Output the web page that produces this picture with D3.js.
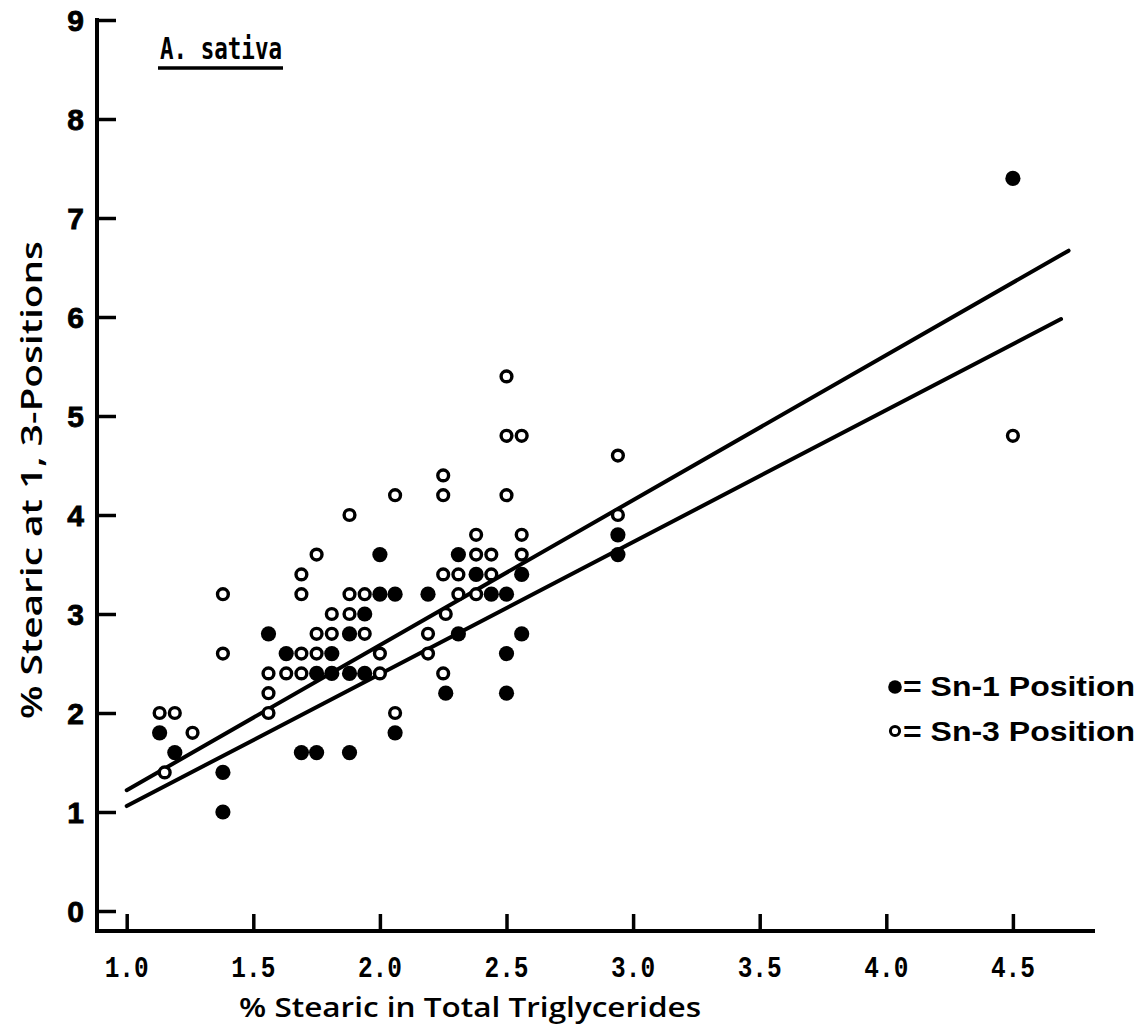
<!DOCTYPE html>
<html>
<head>
<meta charset="utf-8">
<script src="https://cdn.jsdelivr.net/npm/d3@7"></script>
<style>
  html, body { margin: 0; padding: 0; background: #fff; }
  svg { display: block; }
</style>
</head>
<body>
<svg id="chart" width="1141" height="1031"></svg>
<script>
// ---- data ----
const xTickValues = [1.0, 1.5, 2.0, 2.5, 3.0, 3.5, 4.0, 4.5];
const yTickValues = [0, 1, 2, 3, 4, 5, 6, 7, 8, 9];

// Sn-1 position (filled circles): [ % stearic in total TG, % stearic at sn-1 ]
const sn1Points = [
  [1.13,1.8],[1.19,1.6],[1.38,1.4],[1.38,1.0],[1.56,2.8],[1.63,2.6],[1.69,1.6],
  [1.75,2.4],[1.75,1.6],[1.81,2.6],[1.81,2.4],[1.88,2.8],[1.88,2.4],[1.88,1.6],
  [1.94,3.0],[1.94,2.4],[2.0,3.6],[2.0,3.2],[2.06,3.2],[2.06,1.8],[2.19,3.2],
  [2.26,2.2],[2.31,3.6],[2.31,2.8],[2.38,3.4],[2.44,3.2],[2.5,3.2],[2.5,2.6],
  [2.5,2.2],[2.56,3.4],[2.56,2.8],[2.94,3.8],[2.94,3.6],[4.5,7.4]
];
// Sn-3 position (open circles)
const sn3Points = [
  [1.13,2.0],[1.19,2.0],[1.15,1.4],[1.26,1.8],[1.38,3.2],[1.38,2.6],[1.56,2.4],
  [1.56,2.2],[1.56,2.0],[1.63,2.4],[1.69,3.4],[1.69,3.2],[1.69,2.6],[1.69,2.4],
  [1.75,3.6],[1.75,2.8],[1.75,2.6],[1.81,3.0],[1.81,2.8],[1.88,4.0],[1.88,3.2],
  [1.88,3.0],[1.94,3.2],[1.94,2.8],[2.0,2.6],[2.0,2.4],[2.06,4.2],[2.06,2.0],
  [2.19,2.8],[2.19,2.6],[2.25,4.4],[2.25,4.2],[2.25,3.4],[2.26,3.0],[2.25,2.4],
  [2.31,3.4],[2.31,3.2],[2.38,3.8],[2.38,3.6],[2.38,3.2],[2.44,3.6],[2.44,3.4],
  [2.5,5.4],[2.5,4.8],[2.5,4.2],[2.56,4.8],[2.56,3.8],[2.56,3.6],[2.94,4.6],
  [2.94,4.0],[4.5,4.8]
];
// regression lines (endpoints)
const upperLine = [[1.0,1.22],[4.72,6.67]];
const lowerLine = [[1.0,1.06],[4.69,5.98]];

const titleText = "A. sativa";
const xAxisTitle = "% Stearic in Total Triglycerides";
const yAxisTitle = "% Stearic at 1, 3-Positions";
const legendLabels = ["= Sn-1 Position", "= Sn-3 Position"];

// ---- layout ----
const svg = d3.select("#chart");
const x = d3.scaleLinear().domain([1, 4.5]).range([126.7, 1012.9]);
const y = d3.scaleLinear().domain([0, 9]).range([911, 20]);
const axisX0 = 97, axisX1 = 1095, axisY = 931, axisTop = 18;
const ink = "#000";

// axes lines
svg.append("line").attr("x1", axisX0).attr("x2", axisX0).attr("y1", axisTop).attr("y2", axisY + 2)
  .attr("stroke", ink).attr("stroke-width", 4);
svg.append("line").attr("x1", axisX0 - 2).attr("x2", axisX1).attr("y1", axisY).attr("y2", axisY)
  .attr("stroke", ink).attr("stroke-width", 4);

// y axis (ticks pointing inward)
const yAxis = d3.axisRight(y).tickValues(yTickValues).tickSize(19).tickFormat("");
const gy = svg.append("g").attr("transform", `translate(${axisX0},0)`).call(yAxis);
gy.select(".domain").remove();
gy.selectAll(".tick line").attr("stroke", ink).attr("stroke-width", 3.5);
svg.append("g").selectAll("text").data(yTickValues).join("text")
  .attr("x", 84).attr("y", d => y(d)).attr("dy", "0.36em")
  .attr("text-anchor", "end")
  .attr("font-family", "'Liberation Sans', Arial, sans-serif")
  .attr("font-weight", "bold").attr("font-size", 30)
  .attr("stroke", ink).attr("stroke-width", 0.8)
  .text(d => d);

// x axis (ticks pointing up)
const xAxis = d3.axisTop(x).tickValues(xTickValues).tickSize(17).tickFormat("");
const gx = svg.append("g").attr("transform", `translate(0,${axisY})`).call(xAxis);
gx.select(".domain").remove();
gx.selectAll(".tick line").attr("stroke", ink).attr("stroke-width", 3.5);
svg.append("g").selectAll("text").data(xTickValues).join("text")
  .attr("x", d => x(d)).attr("y", 977)
  .attr("text-anchor", "middle")
  .attr("font-family", "'Liberation Mono', 'DejaVu Sans Mono', monospace")
  .attr("font-weight", "bold").attr("font-size", 30)
  .attr("textLength", 44).attr("lengthAdjust", "spacingAndGlyphs")
  .text(d => d3.format(".1f")(d));

// axis titles
svg.append("text").attr("x", 470).attr("y", 1017)
  .attr("text-anchor", "middle")
  .attr("font-family", "'Open Sans', 'DejaVu Sans', sans-serif")
  .attr("font-weight", "600").attr("font-size", 27)
  .attr("textLength", 462).attr("lengthAdjust", "spacingAndGlyphs")
  .text(xAxisTitle);
svg.append("text").attr("transform", "translate(42,480) rotate(-90)")
  .attr("text-anchor", "middle")
  .attr("font-family", "'Open Sans', 'DejaVu Sans', sans-serif")
  .attr("font-weight", "600").attr("font-size", 28)
  .attr("textLength", 478).attr("lengthAdjust", "spacingAndGlyphs")
  .text(yAxisTitle);

// title
svg.append("text").attr("x", 160).attr("y", 59)
  .attr("font-family", "'DejaVu Sans Mono', monospace")
  .attr("font-weight", "bold").attr("font-size", 31)
  .attr("textLength", 122).attr("lengthAdjust", "spacingAndGlyphs")
  .text(titleText);
svg.append("line").attr("x1", 158).attr("x2", 283).attr("y1", 68).attr("y2", 68)
  .attr("stroke", ink).attr("stroke-width", 3.5);

// regression lines
const line = d3.line().x(d => x(d[0])).y(d => y(d[1]));
[upperLine, lowerLine].forEach(l => {
  svg.append("path").attr("d", line(l)).attr("fill", "none")
    .attr("stroke", ink).attr("stroke-width", 4).attr("stroke-linecap", "round");
});

// points
svg.append("g").selectAll("circle").data(sn3Points).join("circle")
  .attr("cx", d => x(d[0])).attr("cy", d => y(d[1])).attr("r", 5.4)
  .attr("fill", "#fff").attr("stroke", ink).attr("stroke-width", 3.4);
svg.append("g").selectAll("circle").data(sn1Points).join("circle")
  .attr("cx", d => x(d[0])).attr("cy", d => y(d[1])).attr("r", 7.6)
  .attr("fill", ink);

// legend
const legend = svg.append("g");
legend.append("circle").attr("cx", 895).attr("cy", 687).attr("r", 6.8).attr("fill", ink);
legend.append("circle").attr("cx", 895).attr("cy", 731).attr("r", 4.6)
  .attr("fill", "#fff").attr("stroke", ink).attr("stroke-width", 3);
legend.selectAll("text").data(legendLabels).join("text")
  .attr("x", 903).attr("y", (d, i) => 696 + i * 45)
  .attr("font-family", "'Liberation Sans', Arial, sans-serif")
  .attr("font-weight", "bold").attr("font-size", 27)
  .attr("textLength", 232).attr("lengthAdjust", "spacingAndGlyphs")
  .text(d => d);
</script>
</body>
</html>
